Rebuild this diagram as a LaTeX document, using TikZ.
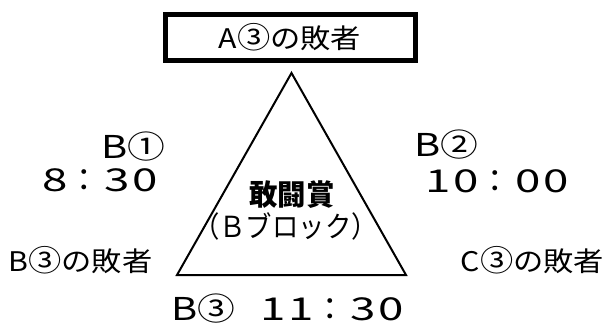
\documentclass[tikz,border=0pt]{standalone}
\usepackage{fontspec}
\newfontfamily\jp{Noto Sans CJK JP}
% digit / colon cells for the times
\newcommand{\dg}[1]{\makebox[28pt][c]{\scalebox{1.45}[1]{#1}}}
\newcommand{\cl}{\makebox[34pt][c]{：\hspace*{4pt}}}
% letter + circled number
\newcommand{\lc}[2]{\scalebox{1.9}[1.5]{#1}\hspace*{-0.5pt}\scalebox{1.8}[1.5]{#2}}
\begin{document}
\begin{tikzpicture}[x=1pt,y=-1pt,
  lbl/.style={inner sep=0pt,font=\jp},
  tm/.style={inner sep=0pt,font=\jp\fontsize{31.5}{31.5}\selectfont},
  bc/.style={inner sep=0pt,font=\jp\fontsize{21}{21}\selectfont},
  tri/.style={draw=black,line width=2pt,line join=miter},
  frame/.style={draw=black,line width=5pt}]
\useasboundingbox (0,0) rectangle (605,324);
% top box
\node[frame,minimum width=250pt,minimum height=46pt,inner sep=0pt] (box) at (290.5,37.8) {};
\node[lbl] (a3) at (290,37) {\scalebox{1.12}[1]{\fontsize{27}{27}\selectfont A\scalebox{1.1}{③}の敗者}};
% triangle
\coordinate (apex) at (291.5,73);
\coordinate (bl) at (177,275);
\coordinate (br) at (406,275);
\draw[tri] (apex) -- (br) -- (bl) -- cycle;
% center
\node[lbl] (prize) at (292,195) {\scalebox{0.98}[1]{\fontsize{29}{29}\selectfont\bfseries 敢闘賞}};
\node[lbl] (block) at (285.5,226) {\scalebox{0.91}[1]{\fontsize{29}{29}\selectfont （Ｂブロック）}};
% left
\node[bc] (b1) at (133.5,146.5) {\lc{B}{①}};
\node[tm] (t1) at (100,180) {\dg{8}\cl\dg{3}\dg{0}};
\node[lbl] (lb3) at (80.5,260) {\scalebox{1.12}[1]{\fontsize{27}{27}\selectfont B\scalebox{1.1}{③}の敗者}};
% right
\node[bc] (b2) at (446.5,144.5) {\lc{B}{②}};
\node[tm] (t2) at (497,181) {\dg{1}\dg{0}\cl\dg{0}\dg{0}};
\node[lbl] (c3) at (532.5,260) {\scalebox{1.12}[1]{\fontsize{27}{27}\selectfont C\scalebox{1.1}{③}の敗者}};
% bottom
\node[bc] (b3) at (203.5,308.5) {\lc{B}{③}};
\node[tm] (t3) at (332,309) {\dg{1}\dg{1}\cl\dg{3}\dg{0}};
\end{tikzpicture}
\end{document}
